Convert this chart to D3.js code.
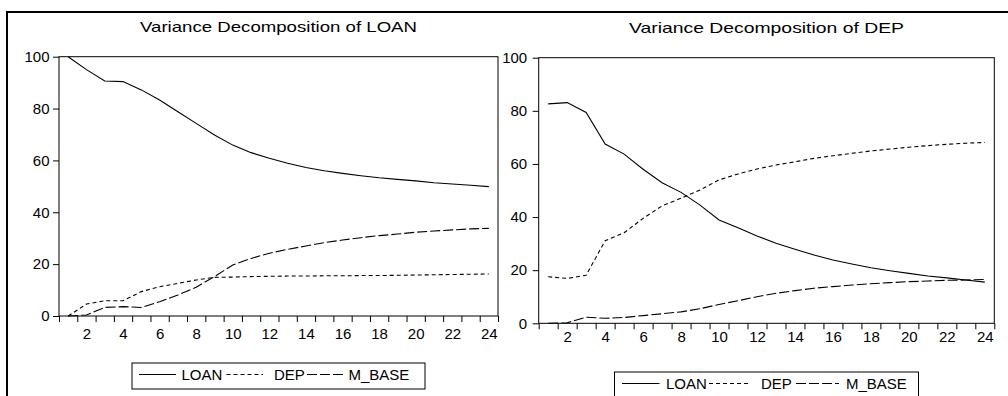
<!DOCTYPE html>
<html>
<head>
<meta charset="utf-8">
<script src="https://cdn.jsdelivr.net/npm/d3@7/dist/d3.min.js"></script>
<style>
  html, body { margin: 0; padding: 0; background: #fff; }
  svg { display: block; }
  text { font-family: "Liberation Sans", Arial, sans-serif; fill: #000; }
</style>
</head>
<body>
<svg id="chart" width="1008" height="396"></svg>
<script>
// Forecast horizon (periods)
const periods = [1,2,3,4,5,6,7,8,9,10,11,12,13,14,15,16,17,18,19,20,21,22,23,24];
const xTickLabels = [2,4,6,8,10,12,14,16,18,20,22,24];
const yTickValues = [0,20,40,60,80,100];
const seriesNames = ["LOAN", "DEP", "M_BASE"];

// Variance decomposition of LOAN (percent)
const loanByLOAN  = [100,95.0,90.6,90.4,87.2,83.3,78.8,74.3,69.8,65.9,63.0,60.8,58.9,57.3,56.0,55.0,54.1,53.3,52.7,52.1,51.4,50.9,50.4,49.9];
const loanByDEP   = [0,4.6,5.9,5.9,9.4,11.3,12.6,13.9,14.9,15.0,15.2,15.3,15.4,15.4,15.5,15.5,15.6,15.6,15.7,15.8,15.9,16.0,16.1,16.2];
const loanByMBASE = [0,0.4,3.3,3.6,3.3,5.5,8.1,11.1,15.2,19.7,22.2,24.2,25.7,27.0,28.3,29.3,30.2,31.0,31.6,32.3,32.8,33.2,33.6,33.8];

// Variance decomposition of DEP (percent)
const depByLOAN  = [82.6,83.1,79.4,67.5,63.7,58.0,52.9,49.3,44.5,38.9,36.0,32.9,30.1,27.9,25.7,23.8,22.3,20.9,19.8,18.8,17.8,17.1,16.3,15.5];
const depByDEP   = [17.5,16.9,18.1,31.1,34.1,39.5,44.2,47.1,50.2,54.0,56.2,58.1,59.6,60.8,62.1,63.1,64.0,64.9,65.6,66.3,66.9,67.4,67.8,68.1];
const depByMBASE = [0,0.2,2.3,1.9,2.2,2.9,3.6,4.3,5.5,7.1,8.5,10.0,11.3,12.3,13.2,13.8,14.4,14.9,15.3,15.7,15.9,16.2,16.3,16.5];

const dashes = [null, "4,3", "10,3"];

const panels = [
  { title: "Variance Decomposition of LOAN", series: [loanByLOAN, loanByDEP, loanByMBASE],
    left: 59, right: 498, top: 56.7, bottom: 316, titleY: 32.3, titleLen: 277,
    xLabelPad: 12.5, yLabelPad: 3.5,
    legend: { x: 132, y: 363, w: 293, h: 26, items: [[7, 44, 49.5], [94.5, 131, 142], [175, 211, 216.5]] } },
  { title: "Variance Decomposition of DEP", series: [depByLOAN, depByDEP, depByMBASE],
    left: 538.7, right: 994.3, top: 57.7, bottom: 323.3, titleY: 33, titleLen: 275,
    xLabelPad: 8.5, yLabelPad: 5.5,
    legend: { x: 614.5, y: 372, w: 304, h: 27, items: [[7.5, 45, 51.5], [94.5, 134.5, 146.5], [181.5, 224.5, 231.5]] } }
];

const svg = d3.select("#chart");

// Outer frame (top and left edges)
svg.append("line").attr("x1", 6).attr("x2", 1008).attr("y1", 12).attr("y2", 12)
  .attr("stroke", "#000").attr("stroke-width", 2);
svg.append("line").attr("x1", 7).attr("x2", 7).attr("y1", 11).attr("y2", 396)
  .attr("stroke", "#000").attr("stroke-width", 2);

panels.forEach(p => {
  const g = svg.append("g");
  const x = d3.scaleLinear().domain([0.5, 24.5]).range([p.left, p.right]);
  const y = d3.scaleLinear().domain([0, 100]).range([p.bottom, p.top]);

  // Title
  g.append("text")
    .attr("x", (p.left + p.right) / 2).attr("y", p.titleY)
    .attr("text-anchor", "middle").attr("font-size", 15)
    .attr("textLength", p.titleLen).attr("lengthAdjust", "spacingAndGlyphs")
    .text(p.title);

  // Plot frame
  g.append("rect")
    .attr("x", p.left).attr("y", p.top)
    .attr("width", p.right - p.left).attr("height", p.bottom - p.top)
    .attr("fill", "none").attr("stroke", "#000").attr("stroke-width", 1);

  // Y axis
  const yAxis = g.append("g").attr("transform", `translate(${p.left},0)`)
    .call(d3.axisLeft(y).tickValues(yTickValues).tickSize(6).tickPadding(p.yLabelPad).tickSizeOuter(0));
  yAxis.select(".domain").remove();
  yAxis.selectAll("text").attr("font-size", 15).attr("font-family", "Liberation Sans, Arial, sans-serif");

  // X axis: tick marks between periods
  const tickPos = d3.range(0, 25).map(i => i + 0.5);
  const xTicks = g.append("g").attr("transform", `translate(0,${p.bottom})`)
    .call(d3.axisBottom(x).tickValues(tickPos).tickSize(6).tickFormat(""));
  xTicks.select(".domain").remove();

  // X axis: period labels
  const xLabels = g.append("g").attr("transform", `translate(0,${p.bottom})`)
    .call(d3.axisBottom(x).tickValues(xTickLabels).tickSize(0).tickPadding(p.xLabelPad).tickFormat(d3.format("d")));
  xLabels.select(".domain").remove();
  xLabels.selectAll("text").attr("font-size", 15).attr("font-family", "Liberation Sans, Arial, sans-serif");

  // Series lines
  const line = d3.line().x((d, i) => x(periods[i])).y(d => y(d));
  p.series.forEach((vals, k) => {
    g.append("path").datum(vals)
      .attr("d", line)
      .attr("fill", "none").attr("stroke", "#000").attr("stroke-width", 1.1)
      .attr("stroke-dasharray", dashes[k]);
  });

  // Legend
  const L = p.legend;
  const lg = g.append("g").attr("transform", `translate(${L.x},${L.y})`);
  lg.append("rect").attr("width", L.w).attr("height", L.h)
    .attr("fill", "#fff").attr("stroke", "#000").attr("stroke-width", 1);
  L.items.forEach((it, k) => {
    lg.append("line").attr("x1", it[0]).attr("x2", it[1])
      .attr("y1", 11.5).attr("y2", 11.5)
      .attr("stroke", "#000").attr("stroke-width", 1)
      .attr("stroke-dasharray", dashes[k]);
    lg.append("text").attr("x", it[2]).attr("y", 16.5)
      .attr("font-size", 15).text(seriesNames[k]);
  });
});
</script>
</body>
</html>
